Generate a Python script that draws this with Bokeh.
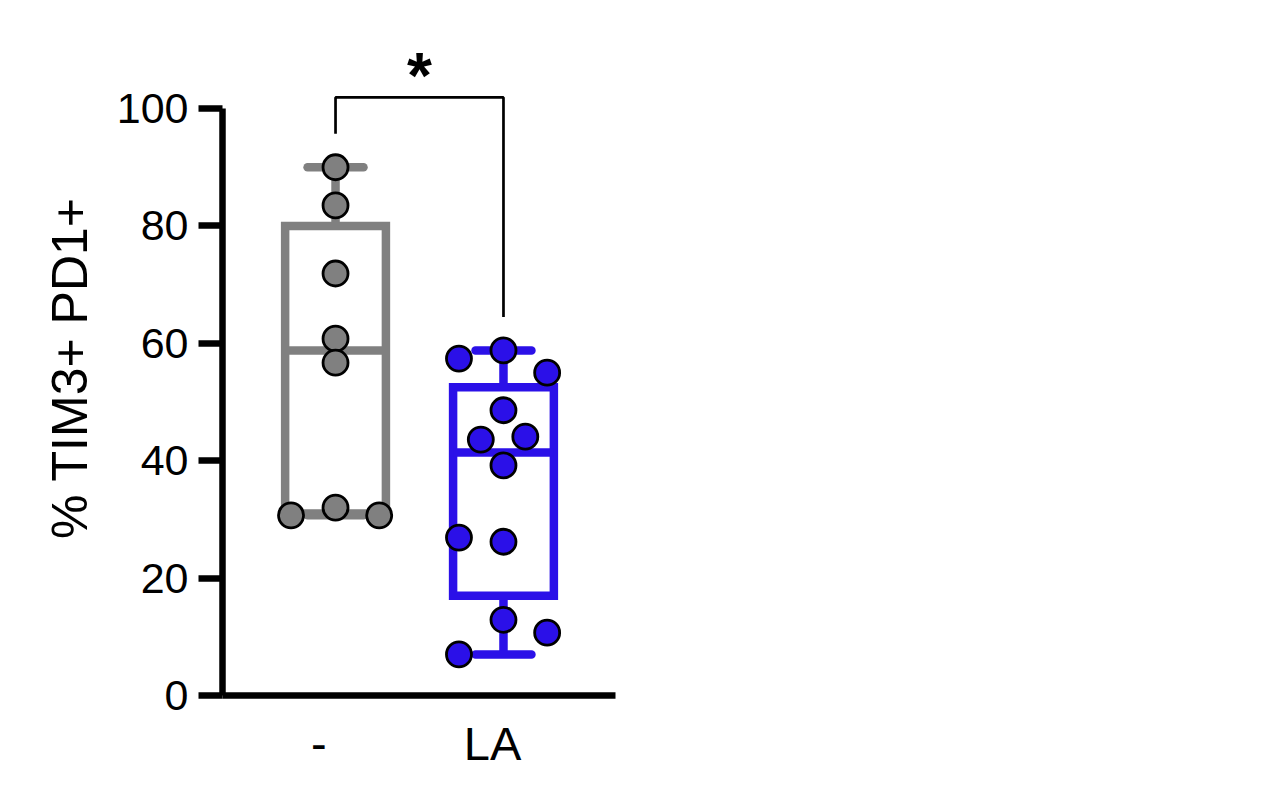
from bokeh.plotting import figure
from bokeh.models import Range1d, FixedTicker
from bokeh.core.properties import value
from bokeh.embed import file_html
from bokeh.resources import INLINE

# groups
groups = ["-", "LA"]
group_pos = [1, 2]
colors = ["#808080", "#2b10e8"]

# individual values
ctrl_vals = [90.0, 83.5, 71.9, 60.8, 56.7, 32.0, 30.7, 30.7]
la_vals = [57.4, 58.8, 55.0, 48.6, 43.6, 44.1, 39.2, 26.9, 26.2, 12.9, 10.7, 7.0]

# horizontal spread of the dots inside each column
ctrl_jit = [0, 0, 0, 0, 0, 0, -0.265, 0.26]
la_jit = [-0.265, 0, 0.26, 0, -0.135, 0.13, 0, -0.265, 0, 0, 0.26, -0.265]

# box statistics (min, q1, median, q3, max)
box_min = [30.7, 7.0]
box_q1 = [31.0, 17.0]
box_med = [58.8, 41.4]
box_q3 = [80.0, 52.5]
box_max = [90.0, 58.8]

yticks = [0, 20, 40, 60, 80, 100]
sig_label = "*"

FONT = "Liberation Sans"

p = figure(width=1266, height=785, output_backend="svg", toolbar_location=None,
           x_range=Range1d(0.327, 2.667), y_range=Range1d(0, 111.6),
           min_border_left=222, min_border_right=651, min_border_top=40, min_border_bottom=90)
p.outline_line_color = None
p.xgrid.visible = False
p.ygrid.visible = False

bw = 0.6
cw = 0.333
for i in range(2):
	x = group_pos[i]
	c = colors[i]
	# whiskers
	p.segment(x0=[x, x], y0=[box_q3[i], box_q1[i]], x1=[x, x], y1=[box_max[i], box_min[i]],
	          line_color=c, line_width=8.5)
	p.segment(x0=[x - cw/2, x - cw/2], y0=[box_max[i], box_min[i]],
	          x1=[x + cw/2, x + cw/2], y1=[box_max[i], box_min[i]],
	          line_color=c, line_width=8.5, line_cap="round")
	# box
	p.quad(left=[x - bw/2], right=[x + bw/2], bottom=[box_q1[i]], top=[box_q3[i]],
	       fill_color=None, line_color=c, line_width=8.5, line_join="miter")
	p.segment(x0=[x - bw/2], y0=[box_med[i]], x1=[x + bw/2], y1=[box_med[i]],
	          line_color=c, line_width=8.5)

p.scatter(x=[group_pos[0] + j for j in ctrl_jit], y=ctrl_vals, size=25,
          fill_color=colors[0], line_color="black", line_width=2.8)
p.scatter(x=[group_pos[1] + j for j in la_jit], y=la_vals, size=25,
          fill_color=colors[1], line_color="black", line_width=2.8)

# significance bracket
gap = 5.7
top = 101.9
left_end = max(ctrl_vals) + gap
right_end = max(la_vals) + gap
p.line(x=[group_pos[0], group_pos[0], group_pos[1], group_pos[1]],
       y=[left_end, top, top, right_end], line_color="black", line_width=2.7)
p.text(x=[(group_pos[0] + group_pos[1]) / 2], y=[top + 3.7], text=[sig_label],
       text_font=value(FONT), text_font_size="64px", text_font_style="bold",
       text_align="center", text_baseline="alphabetic", text_color="black")

# axes
ya = p.yaxis[0]
ya.ticker = FixedTicker(ticks=yticks)
ya.bounds = (0, 100)
ya.axis_line_width = 6.5
ya.major_tick_line_width = 6.5
ya.major_tick_out = 24
ya.major_tick_in = 0
ya.minor_tick_line_color = None
ya.major_label_text_font = FONT
ya.major_label_text_font_size = "43px"
ya.major_label_text_color = "black"
ya.major_label_standoff = 10
ya.axis_label = "% TIM3+ PD1+"
ya.axis_label_text_font = FONT
ya.axis_label_text_font_size = "50px"
ya.axis_label_text_font_style = "normal"
ya.axis_label_text_color = "black"
ya.axis_label_standoff = 16

# category labels sit a little left of the column centres in the original
label_pos = [group_pos[0] - 0.1, group_pos[1] - 0.065]
xa = p.xaxis[0]
xa.ticker = FixedTicker(ticks=label_pos)
xa.major_label_overrides = {label_pos[0]: groups[0], label_pos[1]: groups[1]}
xa.axis_line_width = 6.5
xa.major_tick_line_color = None
xa.minor_tick_line_color = None
xa.major_label_text_font = FONT
xa.major_label_text_font_size = "47px"
xa.major_label_text_color = "black"
xa.major_label_standoff = 15

open("out.html", "w").write(file_html(p, INLINE))
